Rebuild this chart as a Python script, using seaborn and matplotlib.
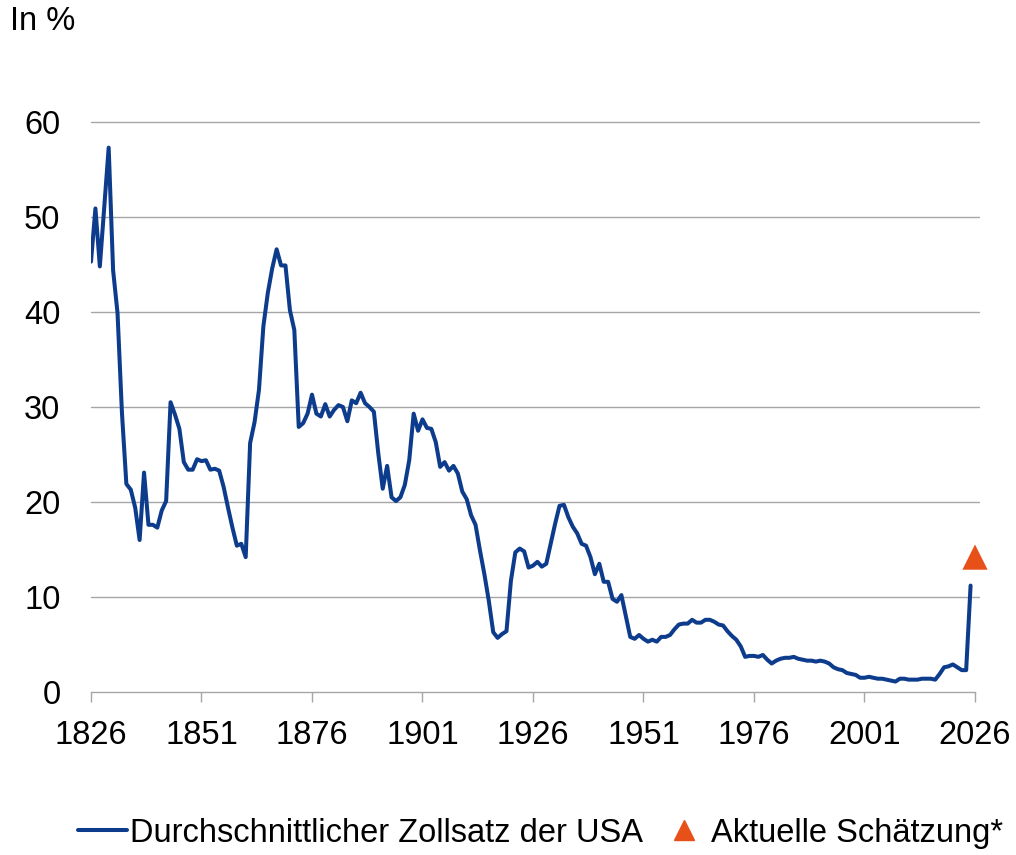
import numpy as np
import pandas as pd
import matplotlib
matplotlib.use("Agg")
import matplotlib.pyplot as plt
import seaborn as sns
from matplotlib.lines import Line2D

# ---- data ----
years = list(range(1826, 2026))
tariff = [
    45.3, 50.9, 44.8, 51.0, 57.3, 44.4, 39.9, 29.4, 21.9, 21.3,   # 1826-1835
    19.4, 16.0, 23.1, 17.6, 17.6, 17.3, 19.1, 20.1, 30.5, 29.2,   # 1836-1845
    27.7, 24.2, 23.4, 23.4, 24.5, 24.3, 24.4, 23.4, 23.5, 23.3,   # 1846-1855
    21.6, 19.4, 17.3, 15.4, 15.6, 14.2, 26.2, 28.4, 31.8, 38.5,   # 1856-1865
    42.0, 44.6, 46.6, 44.9, 44.9, 40.2, 38.1, 27.9, 28.3, 29.3,   # 1866-1875
    31.3, 29.3, 29.0, 30.3, 29.0, 29.7, 30.2, 30.0, 28.5, 30.7,   # 1876-1885
    30.4, 31.5, 30.4, 30.0, 29.5, 25.1, 21.4, 23.8, 20.5, 20.1,   # 1886-1895
    20.5, 21.8, 24.4, 29.3, 27.5, 28.7, 27.8, 27.7, 26.3, 23.7,   # 1896-1905
    24.2, 23.3, 23.8, 23.0, 21.1, 20.3, 18.6, 17.6, 14.9, 12.4,   # 1906-1915
    9.6, 6.3, 5.7, 6.1, 6.4, 11.7, 14.7, 15.1, 14.8, 13.1,        # 1916-1925
    13.3, 13.7, 13.2, 13.5, 15.6, 17.7, 19.6, 19.7, 18.4, 17.4,   # 1926-1935
    16.7, 15.6, 15.4, 14.2, 12.4, 13.5, 11.6, 11.6, 9.8, 9.5,     # 1936-1945
    10.2, 8.0, 5.8, 5.6, 6.0, 5.6, 5.3, 5.5, 5.3, 5.8,            # 1946-1955
    5.8, 6.0, 6.6, 7.1, 7.2, 7.2, 7.6, 7.3, 7.3, 7.6,             # 1956-1965
    7.6, 7.4, 7.1, 7.0, 6.4, 5.9, 5.5, 4.8, 3.7, 3.8,             # 1966-1975
    3.8, 3.7, 3.9, 3.4, 3.0, 3.3, 3.5, 3.6, 3.6, 3.7,             # 1976-1985
    3.5, 3.4, 3.3, 3.3, 3.2, 3.3, 3.2, 3.0, 2.6, 2.4,             # 1986-1995
    2.3, 2.0, 1.9, 1.8, 1.5, 1.5, 1.6, 1.5, 1.4, 1.4,             # 1996-2005
    1.3, 1.2, 1.1, 1.4, 1.4, 1.3, 1.3, 1.3, 1.4, 1.4,             # 2006-2015
    1.4, 1.3, 1.9, 2.6, 2.7, 2.9, 2.6, 2.3, 2.3, 11.2,            # 2016-2025
]
estimate_year = [2026]
estimate_value = [14.2]
x_ticks = [1826, 1851, 1876, 1901, 1926, 1951, 1976, 2001, 2026]
y_ticks = [0, 10, 20, 30, 40, 50, 60]

series_label = "Durchschnittlicher Zollsatz der USA"
estimate_label = "Aktuelle Schätzung*"
unit_label = "In %"

df = pd.DataFrame({"Jahr": years, "Zollsatz": tariff})
df_est = pd.DataFrame({"Jahr": estimate_year, "Zollsatz": estimate_value})

# ---- style ----
sns.set_theme(style="white")
plt.rcParams["font.family"] = ["Liberation Sans", "DejaVu Sans"]
plt.rcParams["text.color"] = "black"

line_color = "#0E3C8C"
est_color = "#E8501A"
grid_color = "#A6A6A6"
fs = 23.5

fig = plt.figure(figsize=(10.16, 8.55), dpi=100)
ax = fig.add_axes([91 / 1016, 1 - 692 / 855, (975 - 91) / 1016, (692 - 122) / 855])

sns.lineplot(data=df, x="Jahr", y="Zollsatz", ax=ax, color=line_color,
             linewidth=2.9, legend=False)
sns.scatterplot(data=df_est, x="Jahr", y="Zollsatz", ax=ax, color=est_color,
                marker="^", s=330, edgecolor="none", legend=False, zorder=5,
                clip_on=False)

ax.set_xlim(1826, 2026)
ax.set_ylim(0, 60)
ax.set_xticks(x_ticks)
ax.set_yticks(y_ticks)
ax.set_xticklabels([str(t) for t in x_ticks])
ax.set_yticklabels([str(t) for t in y_ticks])
ax.set_xlabel("")
ax.set_ylabel("")

for y in y_ticks[1:]:
    ax.axhline(y, color=grid_color, linewidth=1.0, zorder=0, xmax=1.004, clip_on=False)

for side in ["left", "right", "top"]:
    ax.spines[side].set_visible(False)
ax.spines["bottom"].set_color(grid_color)
ax.spines["bottom"].set_linewidth(1.0)

ax.tick_params(axis="x", which="both", length=7, width=1.0, color=grid_color,
               direction="out", labelsize=fs, pad=13, labelcolor="black", bottom=True)
ax.tick_params(axis="y", which="both", length=0, labelsize=fs, pad=22,
               labelcolor="black", left=False)

fig.text(10 / 1016, 1 - 22 / 855, unit_label, fontsize=fs, ha="left", va="center",
         color="black")

handles = [
    Line2D([0], [0], color=line_color, linewidth=2.9),
    Line2D([0], [0], color=est_color, marker="^", linestyle="none", markersize=14),
]
fig.legend(handles, [series_label, estimate_label], loc="center",
           bbox_to_anchor=(0.532, 1 - 833 / 855), ncol=2, frameon=False,
           fontsize=fs, handlelength=1.5, handletextpad=0.1, columnspacing=0.5,
           labelcolor="black")

fig.savefig("out.png", dpi=100)
